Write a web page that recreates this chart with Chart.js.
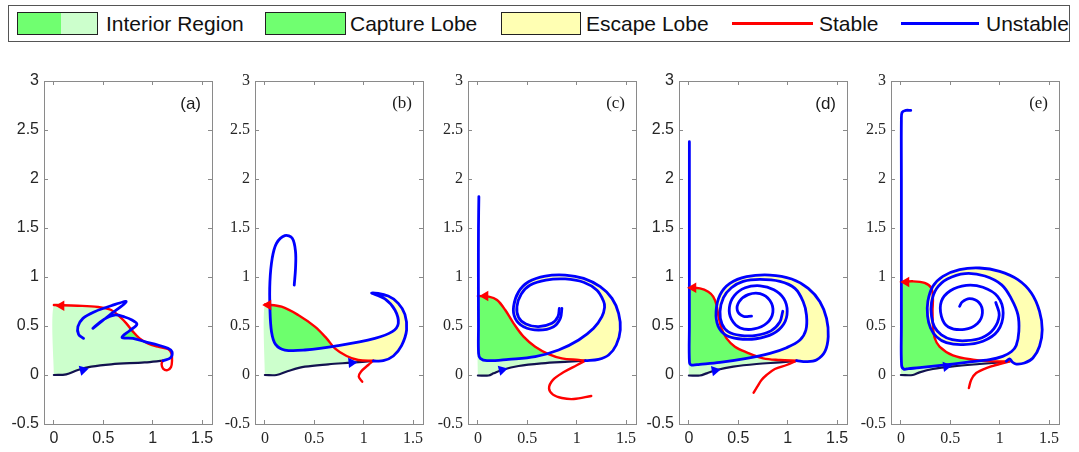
<!DOCTYPE html>
<html><head><meta charset="utf-8">
<script src="https://cdn.jsdelivr.net/npm/chart.js@4.4.1/dist/chart.umd.min.js"></script>
<style>
body{margin:0;width:1079px;height:452px;background:#fff;position:relative;overflow:hidden;font-family:"Liberation Sans",Arial,sans-serif}
#legend{position:absolute;left:8px;top:5px;width:1062px;height:37px;border:1px solid #555;box-sizing:border-box;background:#fff}
.sw{position:absolute;top:6px;height:23px;border:1px solid #222;box-sizing:border-box}
.lt{position:absolute;top:0;line-height:35px;font-size:21px;color:#111;white-space:nowrap}
.ln{position:absolute;top:16px;height:3px}
canvas.pan{position:absolute;top:60px}
</style></head>
<body>
<div id="legend">
  <div class="sw" style="left:8px;width:81px;background:linear-gradient(to right,#70ff70 0,#70ff70 55%,#ccffcc 55%,#ccffcc 100%)"></div>
  <div class="lt" style="left:97px">Interior Region</div>
  <div class="sw" style="left:256px;width:81px;background:#70ff70"></div>
  <div class="lt" style="left:341px">Capture Lobe</div>
  <div class="sw" style="left:492px;width:80px;background:#ffffb3"></div>
  <div class="lt" style="left:577px">Escape Lobe</div>
  <div class="ln" style="left:723px;width:81px;background:#ff0000"></div>
  <div class="lt" style="left:810px">Stable</div>
  <div class="ln" style="left:892px;width:78px;background:#0000ff"></div>
  <div class="lt" style="left:977px">Unstable</div>
</div>
<canvas class="pan" id="ca" width="225" height="392" style="left:-1px"></canvas>
<canvas class="pan" id="cb" width="225" height="392" style="left:210px"></canvas>
<canvas class="pan" id="cc" width="225" height="392" style="left:423px"></canvas>
<canvas class="pan" id="cd" width="225" height="392" style="left:634px"></canvas>
<canvas class="pan" id="ce" width="225" height="392" style="left:846px"></canvas>
<script>
// ---- axes ----
const xTicks=[0,0.5,1,1.5];
const xTickLabels=['0','0.5','1','1.5'];
const yTicks=[-0.5,0,0.5,1,1.5,2,2.5,3];
const yTickLabels=['-0.5','0','0.5','1','1.5','2','2.5','3'];
const panelLabels=['(a)','(b)','(c)','(d)','(e)'];

// ---- panel (a) ----
const aBottom=[[0,0],[0.125,0.007],[0.243,0.051],[0.378,0.085],[0.58,0.109],[0.918,0.129],[1.104,0.146]];
const aRed=[[0,0.714],[0.24,0.707],[0.446,0.694],[0.58,0.663],[0.666,0.595],[0.733,0.527],[0.80,0.442],[0.867,0.374],[0.95,0.323],[1.053,0.289],[1.154,0.265],[1.19,0.22],[1.195,0.14],[1.185,0.08],[1.15,0.05],[1.105,0.065],[1.09,0.11],[1.10,0.145]];
const aBlue=[[1.104,0.146],[1.181,0.177],[1.195,0.238],[1.154,0.272],[1.053,0.306],[0.918,0.340],[0.80,0.374],[0.689,0.384],[0.766,0.452],[0.84,0.517],[0.79,0.561],[0.716,0.592],[0.614,0.612],[0.506,0.568],[0.395,0.476],[0.564,0.612],[0.732,0.748],[0.58,0.707],[0.412,0.646],[0.294,0.578],[0.243,0.493],[0.25,0.415],[0.30,0.374]];
const aInterior=[[0,0],[0,0.714],[0.24,0.707],[0.446,0.694],[0.58,0.663],[0.666,0.595],[0.733,0.527],[0.80,0.442],[0.867,0.374],[0.95,0.323],[1.053,0.289],[1.154,0.265],[1.19,0.22],[1.18,0.17],[1.104,0.146],[0.918,0.129],[0.58,0.109],[0.378,0.085],[0.243,0.051],[0.125,0.007]];
const aCapture=[[0.689,0.384],[0.79,0.476],[0.85,0.367]];

// ---- panel (b) ----
const bBottom=[[0,0],[0.118,0],[0.236,0.041],[0.405,0.085],[0.641,0.109],[0.877,0.126],[1.097,0.143]];
const bRedTop=[[0,0.721],[0.169,0.697],[0.337,0.612],[0.506,0.493],[0.624,0.374],[0.708,0.272],[0.827,0.194],[0.945,0.153],[1.097,0.146]];
const bRedLow=[[1.097,0.146],[1.046,0.102],[0.972,0.034],[0.95,-0.017],[0.985,-0.068]];
const bBlue=[[1.097,0.143],[1.198,0.146],[1.30,0.194],[1.383,0.30],[1.434,0.459],[1.417,0.619],[1.35,0.731],[1.248,0.806],[1.08,0.837],[1.215,0.776],[1.316,0.663],[1.35,0.527],[1.289,0.442],[1.113,0.374],[0.742,0.30],[0.405,0.255],[0.202,0.255],[0.108,0.313],[0.067,0.442],[0.051,0.68],[0.051,0.952],[0.074,1.19],[0.118,1.344],[0.202,1.422],[0.277,1.395],[0.31,1.259],[0.31,1.088],[0.297,0.918]];
const bInterior=[[0,0],[0,0.721],[0.169,0.697],[0.337,0.612],[0.506,0.493],[0.624,0.374],[0.708,0.272],[0.827,0.194],[0.945,0.153],[1.097,0.146],[0.877,0.126],[0.641,0.109],[0.405,0.085],[0.236,0.041],[0.118,0]];
const bCapture=[[0.05,0.707],[0.169,0.697],[0.337,0.612],[0.506,0.493],[0.624,0.374],[0.69,0.293],[0.405,0.255],[0.202,0.255],[0.108,0.313],[0.067,0.442]];
const bEscape=[[0.69,0.293],[0.708,0.272],[0.827,0.194],[0.945,0.153],[1.097,0.146],[1.198,0.146],[1.30,0.194],[1.383,0.30],[1.434,0.459],[1.417,0.619],[1.35,0.731],[1.248,0.806],[1.08,0.837],[1.215,0.776],[1.316,0.663],[1.35,0.527],[1.289,0.442],[1.113,0.374],[0.742,0.30]];

// ---- panel (c) ----
const cBottom=[[0,-0.005],[0.108,-0.005],[0.159,0.017],[0.243,0.051],[0.412,0.092],[0.648,0.119],[0.918,0.136],[1.088,0.146]];
const cRedTop=[[0,0.806],[0.11,0.80],[0.194,0.765],[0.277,0.663],[0.361,0.527],[0.462,0.391],[0.58,0.289],[0.715,0.214],[0.85,0.17],[1.02,0.153],[1.088,0.146]];
const cRedLow=[[1.088,0.146],[1.0,0.10],[0.87,0.03],[0.76,-0.05],[0.72,-0.136],[0.76,-0.2],[0.85,-0.235],[0.97,-0.245],[1.147,-0.214]];
const cBlueA=[[1.088,0.146],[1.221,0.16],[1.323,0.204],[1.40,0.306],[1.441,0.459],[1.424,0.629],[1.357,0.782],[1.238,0.901],[1.07,0.986],[0.884,1.02],[0.682,1.01],[0.513,0.952],[0.412,0.85],[0.361,0.697],[0.378,0.578],[0.462,0.493],[0.614,0.459],[0.766,0.493],[0.834,0.578],[0.85,0.68]];
const cBlueB=[[0.01,1.82],[0.006,1.5],[0.005,1.0],[0.006,0.5],[0.007,0.22],[0.024,0.17],[0.092,0.146],[0.311,0.16],[0.58,0.187],[0.817,0.255],[1.02,0.357],[1.171,0.476],[1.255,0.595],[1.282,0.69],[1.272,0.752],[1.205,0.864],[1.07,0.946],[0.884,0.98],[0.688,0.969],[0.53,0.918],[0.439,0.827],[0.395,0.697],[0.412,0.588],[0.486,0.52],[0.614,0.493],[0.749,0.527],[0.81,0.595],[0.824,0.68]];
const cInterior=[[0,0],[0,0.806],[0.11,0.80],[0.194,0.765],[0.277,0.663],[0.361,0.527],[0.462,0.391],[0.58,0.289],[0.715,0.214],[0.85,0.17],[1.02,0.153],[1.088,0.146],[0.918,0.136],[0.648,0.119],[0.412,0.092],[0.243,0.051],[0.159,0.017],[0.108,0]];
const cCapture=[[0.007,0.806],[0.11,0.80],[0.194,0.765],[0.277,0.663],[0.361,0.527],[0.462,0.391],[0.58,0.289],[0.69,0.222],[0.58,0.187],[0.311,0.16],[0.092,0.146],[0.024,0.17],[0.007,0.22]];
const cEscape=[[0.69,0.222],[0.715,0.214],[0.85,0.17],[1.02,0.153],[1.088,0.146],[1.221,0.16],[1.323,0.204],[1.40,0.306],[1.441,0.459],[1.424,0.629],[1.357,0.782],[1.238,0.901],[1.07,0.986],[0.884,1.02],[0.682,1.01],[0.513,0.952],[0.412,0.85],[0.361,0.697],[0.378,0.578],[0.462,0.493],[0.614,0.459],[0.766,0.493],[0.834,0.578],[0.85,0.68],[0.824,0.68],[0.81,0.595],[0.749,0.527],[0.614,0.493],[0.486,0.52],[0.412,0.588],[0.395,0.697],[0.439,0.827],[0.53,0.918],[0.688,0.969],[0.884,0.98],[1.07,0.946],[1.205,0.864],[1.272,0.752],[1.282,0.69],[1.255,0.595],[1.171,0.476],[1.02,0.357],[0.817,0.255]];

// ---- panel (d) ----
const dBottom=[[0,-0.005],[0.111,-0.005],[0.18,0.017],[0.28,0.051],[0.449,0.085],[0.685,0.112],[0.921,0.129],[1.09,0.143]];
const dRedTop=[[0,0.891],[0.111,0.884],[0.196,0.85],[0.246,0.80],[0.28,0.714],[0.297,0.612],[0.33,0.476],[0.381,0.374],[0.466,0.289],[0.584,0.231],[0.752,0.17],[0.921,0.153],[1.09,0.146]];
const dRedLow=[[1.09,0.146],[0.989,0.102],[0.87,0.061],[0.786,0],[0.735,-0.051],[0.692,-0.119],[0.655,-0.18]];
const dBlueA=[[1.09,0.146],[1.19,0.136],[1.29,0.153],[1.376,0.238],[1.41,0.391],[1.393,0.578],[1.326,0.748],[1.208,0.884],[1.04,0.98],[0.82,1.02],[0.584,1.003],[0.415,0.935],[0.314,0.816],[0.275,0.646],[0.295,0.50],[0.37,0.41],[0.50,0.37],[0.68,0.37],[0.85,0.42],[0.96,0.52],[0.995,0.65],[0.96,0.78],[0.86,0.87],[0.72,0.91],[0.57,0.89],[0.46,0.81],[0.41,0.69],[0.43,0.57],[0.52,0.48],[0.66,0.47],[0.79,0.53],[0.85,0.64],[0.82,0.76],[0.72,0.83],[0.60,0.82],[0.51,0.75],[0.49,0.66],[0.55,0.60],[0.634,0.60]];
const dBlueB=[[0.005,2.38],[0.005,2.0],[0.005,1.5],[0.005,1.0],[0.005,0.5],[0.006,0.13],[0.027,0.102],[0.111,0.109],[0.314,0.129],[0.584,0.17],[0.82,0.221],[0.989,0.279],[1.124,0.357],[1.184,0.459],[1.19,0.612],[1.157,0.748],[1.073,0.884],[0.921,0.955],[0.719,0.975],[0.55,0.955],[0.43,0.89],[0.35,0.79],[0.315,0.65],[0.335,0.52],[0.40,0.44],[0.52,0.405],[0.68,0.405],[0.83,0.45],[0.92,0.54],[0.95,0.65]];
const dInterior=[[0,0],[0,0.891],[0.111,0.884],[0.196,0.85],[0.246,0.80],[0.28,0.714],[0.297,0.612],[0.33,0.476],[0.381,0.374],[0.466,0.289],[0.584,0.231],[0.752,0.17],[0.921,0.153],[1.09,0.146],[0.921,0.129],[0.685,0.112],[0.449,0.085],[0.28,0.051],[0.18,0.017],[0.111,0]];
const dCapture=[[0.005,0.891],[0.111,0.884],[0.196,0.85],[0.246,0.80],[0.28,0.714],[0.297,0.612],[0.33,0.476],[0.381,0.374],[0.466,0.289],[0.584,0.231],[0.70,0.19],[0.584,0.17],[0.314,0.129],[0.111,0.109],[0.027,0.102],[0.006,0.13]];
const dEscape=[[0.70,0.19],[0.752,0.17],[0.921,0.153],[1.09,0.146],[1.19,0.136],[1.29,0.153],[1.376,0.238],[1.41,0.391],[1.393,0.578],[1.326,0.748],[1.208,0.884],[1.04,0.98],[0.82,1.02],[0.584,1.003],[0.415,0.935],[0.314,0.816],[0.275,0.646],[0.295,0.50],[0.37,0.41],[0.50,0.37],[0.68,0.37],[0.85,0.42],[0.96,0.52],[0.995,0.65],[0.95,0.65],[0.92,0.54],[0.83,0.45],[0.68,0.405],[0.52,0.405],[0.40,0.44],[0.335,0.52],[0.315,0.65],[0.35,0.79],[0.43,0.89],[0.55,0.955],[0.719,0.975],[0.921,0.955],[1.073,0.884],[1.157,0.748],[1.19,0.612],[1.184,0.459],[1.124,0.357],[0.989,0.279],[0.82,0.221]];

// ---- panel (e) ----
const eBottom=[[0,0],[0.121,0],[0.189,0.027],[0.324,0.061],[0.526,0.088],[0.796,0.112],[1.066,0.133]];
const eRedTop=[[0,0.949],[0.121,0.956],[0.24,0.939],[0.307,0.888],[0.324,0.786],[0.32,0.65],[0.325,0.50],[0.341,0.38],[0.391,0.29],[0.526,0.2],[0.729,0.156],[0.931,0.139],[1.10,0.139]];
const eRedLow=[[1.10,0.139],[0.999,0.112],[0.864,0.071],[0.762,0.02],[0.712,-0.048],[0.688,-0.133]];
const eBlueA=[[1.066,0.14],[1.10,0.165],[1.13,0.13],[1.167,0.112],[1.25,0.122],[1.336,0.173],[1.403,0.293],[1.43,0.463],[1.403,0.65],[1.32,0.837],[1.184,0.973],[0.999,1.058],[0.796,1.092],[0.594,1.075],[0.425,1.007],[0.324,0.905],[0.273,0.752],[0.27,0.60],[0.30,0.48],[0.36,0.39],[0.46,0.33],[0.63,0.31],[0.83,0.345],[0.98,0.45],[1.035,0.633],[0.98,0.80],[0.83,0.895],[0.661,0.915],[0.50,0.86],[0.41,0.752],[0.41,0.599],[0.48,0.49],[0.644,0.465],[0.775,0.525],[0.825,0.633],[0.79,0.74],[0.695,0.78],[0.62,0.745],[0.594,0.70]];
const eBlueB=[[0.10,2.70],[0.05,2.70],[0.012,2.68],[0.005,2.6],[0.005,2.0],[0.005,1.5],[0.005,1.0],[0.005,0.5],[0.007,0.10],[0.03,0.06],[0.08,0.065],[0.189,0.075],[0.425,0.10],[0.661,0.129],[0.897,0.156],[1.03,0.19],[1.12,0.24],[1.167,0.30],[1.194,0.446],[1.184,0.616],[1.117,0.78],[1.02,0.92],[0.85,1.01],[0.65,1.035],[0.47,0.98],[0.36,0.88],[0.31,0.74],[0.31,0.60],[0.34,0.49],[0.41,0.41],[0.52,0.36],[0.66,0.35],[0.82,0.38],[0.94,0.47],[0.995,0.61],[0.96,0.74]];
const eInterior=[[0,0],[0,0.949],[0.121,0.956],[0.24,0.939],[0.307,0.888],[0.324,0.786],[0.32,0.65],[0.325,0.50],[0.341,0.38],[0.391,0.29],[0.526,0.2],[0.729,0.156],[0.931,0.139],[1.10,0.139],[1.066,0.133],[0.796,0.112],[0.526,0.088],[0.324,0.061],[0.189,0.027],[0.121,0]];
const eCapture=[[0.005,0.949],[0.121,0.956],[0.24,0.939],[0.307,0.888],[0.324,0.786],[0.32,0.65],[0.325,0.50],[0.341,0.38],[0.391,0.29],[0.526,0.2],[0.729,0.156],[0.82,0.148],[0.661,0.129],[0.425,0.10],[0.189,0.075],[0.08,0.065],[0.03,0.06],[0.007,0.10]];
const eEscape=[[0.82,0.148],[0.931,0.139],[1.066,0.14],[1.10,0.165],[1.13,0.13],[1.167,0.112],[1.25,0.122],[1.336,0.173],[1.403,0.293],[1.43,0.463],[1.403,0.65],[1.32,0.837],[1.184,0.973],[0.999,1.058],[0.796,1.092],[0.594,1.075],[0.425,1.007],[0.324,0.905],[0.273,0.752],[0.27,0.60],[0.30,0.48],[0.36,0.39],[0.46,0.33],[0.63,0.31],[0.83,0.345],[0.82,0.38],[0.66,0.35],[0.52,0.36],[0.41,0.41],[0.34,0.49],[0.31,0.60],[0.31,0.74],[0.36,0.88],[0.47,0.98],[0.65,1.035],[0.85,1.01],[1.02,0.92],[1.117,0.78],[1.184,0.616],[1.194,0.446],[1.167,0.30],[1.12,0.24],[1.03,0.19],[0.897,0.156]];

// ---- arrows: [x, y] positions and rotation (deg) ----
const redArrows=[[0.075,0.707],[0.034,0.714],[0.075,0.806],[0.044,0.891],[0.054,0.949]];
const blueArrows=[[0.294,0.051],[0.877,0.126],[0.243,0.051],[0.263,0.045],[0.459,0.088]];
const blueArrowRot=[76,85,76,79,82];

const COL={interior:'#ccffcc',capture:'#6dff6d',escape:'#ffffb3',red:'#ff0000',blue:'#0000ff',bottom:'#12124f',axis:'#8a8a8a'};

const P=a=>a.map(([x,y])=>({x,y}));

const panels=[
 {id:'ca',serif:false,interior:aInterior,capture:aCapture,escape:null,bottom:aBottom,red:[aRed],blue:[aBlue]},
 {id:'cb',serif:true,interior:bInterior,capture:bCapture,escape:bEscape,bottom:bBottom,red:[bRedTop,bRedLow],blue:[bBlue]},
 {id:'cc',serif:true,interior:cInterior,capture:cCapture,escape:cEscape,bottom:cBottom,red:[cRedTop,cRedLow],blue:[cBlueA,cBlueB]},
 {id:'cd',serif:false,interior:dInterior,capture:dCapture,escape:dEscape,bottom:dBottom,red:[dRedTop,dRedLow],blue:[dBlueA,dBlueB]},
 {id:'ce',serif:true,interior:eInterior,capture:eCapture,escape:eEscape,bottom:eBottom,red:[eRedTop,eRedLow],blue:[eBlueA,eBlueB]}
];

const panelLabelPlugin={id:'panelLabel',afterDraw(chart,args,opts){
  const {ctx,chartArea:a}=chart;ctx.save();ctx.font=opts.font;ctx.fillStyle='#1a1a1a';
  ctx.textAlign='right';ctx.textBaseline='middle';ctx.fillText(opts.text,a.right-11,a.top+23);ctx.restore();}};

panels.forEach((p,i)=>{
  const fam=p.serif?'"Liberation Serif","Times New Roman",serif':'"Liberation Sans",Arial,sans-serif';
  const size=p.serif?16:16;
  const tickFont={family:fam,size:size};
  const ds=[];
  const fillDs=(pts,color,order)=>({data:P(pts),fill:'shape',backgroundColor:color,borderColor:'rgba(0,0,0,0)',borderWidth:0,pointRadius:0,tension:0.2,order});
  const lineDs=(pts,color,w,order)=>({data:P(pts),fill:false,borderColor:color,borderWidth:w,pointRadius:0,tension:0.35,order,borderCapStyle:'round',borderJoinStyle:'round'});
  const arrowDs=(pt,color,rot)=>({data:P([pt]),showLine:false,pointStyle:'triangle',pointRadius:6,pointRotation:rot,pointBackgroundColor:color,pointBorderColor:color,pointBorderWidth:0,order:1});
  ds.push(fillDs(p.interior,COL.interior,10));
  if(p.capture) ds.push(fillDs(p.capture,COL.capture,9));
  if(p.escape) ds.push(fillDs(p.escape,COL.escape,8));
  ds.push(lineDs(p.bottom,COL.bottom,2.2,5));
  p.red.forEach(r=>ds.push(lineDs(r,COL.red,2.4,4)));
  p.blue.forEach(b=>ds.push(lineDs(b,COL.blue,2.8,3)));
  ds.push(arrowDs(redArrows[i],COL.red,270));
  ds.push(arrowDs(blueArrows[i],COL.blue,blueArrowRot[i]));

  const setX=s=>{s.ticks=xTicks.map(v=>({value:v}));};
  const setY=s=>{s.ticks=yTicks.map(v=>({value:v}));};
  const grid={drawOnChartArea:false,drawTicks:true,tickLength:-4,tickColor:COL.axis,tickWidth:1};
  const border={display:true,color:COL.axis,width:1};
  new Chart(document.getElementById(p.id),{
    type:'line',
    data:{datasets:ds},
    plugins:[panelLabelPlugin],
    options:{
      responsive:false,animation:false,events:[],devicePixelRatio:1,
      layout:{padding:{top:21,right:12,left:0,bottom:0}},
      plugins:{legend:{display:false},tooltip:{enabled:false},panelLabel:{text:panelLabels[i],font:'17px '+fam}},
      scales:{
        x:{type:'linear',position:'bottom',min:-0.1,max:1.6,afterBuildTicks:setX,afterFit:s=>{s.height=28;},
           grid,border,ticks:{font:tickFont,color:'#262626',padding:9,maxRotation:0,autoSkip:false,callback:(v,k)=>xTickLabels[k]}},
        y:{type:'linear',position:'left',min:-0.5,max:3,afterBuildTicks:setY,afterFit:s=>{s.width=45;},
           grid,border,ticks:{font:tickFont,color:'#262626',padding:9,autoSkip:false,callback:(v,k)=>yTickLabels[k]}},
        x2:{type:'linear',position:'top',min:-0.1,max:1.6,afterBuildTicks:setX,afterFit:s=>{s.height=0;},
           grid,border,ticks:{display:false}},
        y2:{type:'linear',position:'right',min:-0.5,max:3,afterBuildTicks:setY,afterFit:s=>{s.width=0;},
           grid,border,ticks:{display:false}}
      }
    }
  });
});
</script>
</body></html>
